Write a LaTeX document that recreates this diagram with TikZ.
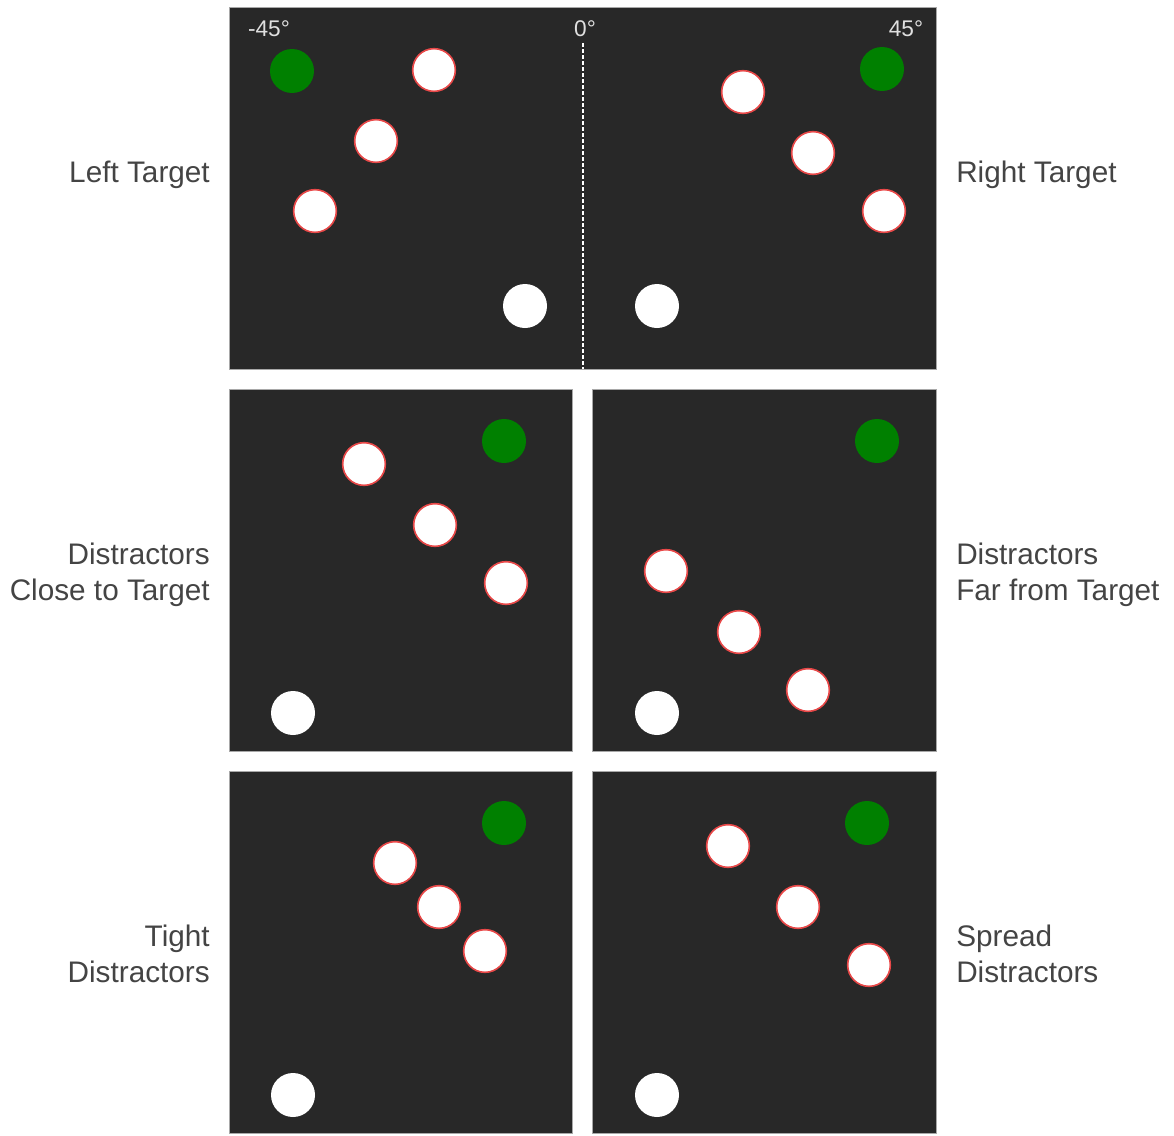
\documentclass[tikz,border=0pt]{standalone}
\usepackage{fontspec}
\setmainfont{Liberation Sans}
\definecolor{panelbg}{HTML}{282828}
\definecolor{panelframe}{HTML}{A8A8A8}
\definecolor{tgtgreen}{HTML}{008000}
\definecolor{distred}{HTML}{E84848}
\definecolor{labgray}{HTML}{444444}
\definecolor{anglab}{HTML}{E0E0E0}
\begin{document}
\begin{tikzpicture}[x=0.75pt,y=-0.75pt,
  panel/.style={fill=panelbg,draw=panelframe,line width=0.6pt},
  target/.style={circle,fill=tgtgreen,minimum size=33pt,inner sep=0pt},
  distractor/.style={circle,fill=white,draw=distred,line width=1.2pt,minimum size=32pt,inner sep=0pt},
  fixdot/.style={circle,fill=white,minimum size=33pt,inner sep=0pt},
  sidelabel/.style={text=labgray,font=\fontsize{22.3}{27}\selectfont,inner sep=0pt},
  anglelabel/.style={text=anglab,font=\fontsize{17}{20}\selectfont,inner sep=0pt},
  midline/.style={white,dashed,dash pattern=on 3pt off 1.5pt,line width=1.1pt}]
\useasboundingbox (0,0) rectangle (1174,1135);
% panels
\draw[panel] (229,7) rectangle (936,369);
\draw[panel] (229,389) rectangle (572,751);
\draw[panel] (592,389) rectangle (936,751);
\draw[panel] (229,771) rectangle (572,1133);
\draw[panel] (592,771) rectangle (936,1133);
% angle labels and midline
\node[anglelabel] (am45) at (269,29) {-45°};
\node[anglelabel] (a0) at (585,29) {0°};
\node[anglelabel] (a45) at (906,29) {45°};
\coordinate (mtop) at (583,43);
\coordinate (mbot) at (583,369);
\draw[midline] (mtop) -- (mbot);
% top panel
\node[target] (tl) at (292,71) {};
\node[distractor] (tl1) at (434,70) {};
\node[distractor] (tl2) at (376,141) {};
\node[distractor] (tl3) at (315,211) {};
\node[fixdot] (tlf) at (525,306) {};
\node[target] (tr) at (882,69) {};
\node[distractor] (tr1) at (743,92) {};
\node[distractor] (tr2) at (813,153) {};
\node[distractor] (tr3) at (884,211) {};
\node[fixdot] (trf) at (657,306) {};
% middle left
\node[target] (ml) at (504,441) {};
\node[distractor] (ml1) at (364,464) {};
\node[distractor] (ml2) at (435,525) {};
\node[distractor] (ml3) at (506,583) {};
\node[fixdot] (mlf) at (293,713) {};
% middle right
\node[target] (mr) at (877,441) {};
\node[distractor] (mr1) at (666,571) {};
\node[distractor] (mr2) at (739,632) {};
\node[distractor] (mr3) at (808,690) {};
\node[fixdot] (mrf) at (657,713) {};
% bottom left
\node[target] (bl) at (504,823) {};
\node[distractor] (bl1) at (395,863) {};
\node[distractor] (bl2) at (439,907) {};
\node[distractor] (bl3) at (485,951) {};
\node[fixdot] (blf) at (293,1095) {};
% bottom right
\node[target] (br) at (867,823) {};
\node[distractor] (br1) at (728,846) {};
\node[distractor] (br2) at (798,907) {};
\node[distractor] (br3) at (869,965) {};
\node[fixdot] (brf) at (657,1095) {};
% side labels
\node[sidelabel,anchor=base east] (lab1) at (210,182) {Left Target};
\node[sidelabel,anchor=base west] (lab2) at (956,182) {Right Target};
\node[sidelabel,anchor=base east,align=right] (lab3) at (210,600) {Distractors\\Close to Target};
\node[sidelabel,anchor=base west,align=left] (lab4) at (956,600) {Distractors\\Far from Target};
\node[sidelabel,anchor=base east,align=right] (lab5) at (210,982) {Tight\\Distractors};
\node[sidelabel,anchor=base west,align=left] (lab6) at (956,982) {Spread\\Distractors};
\end{tikzpicture}
\end{document}
